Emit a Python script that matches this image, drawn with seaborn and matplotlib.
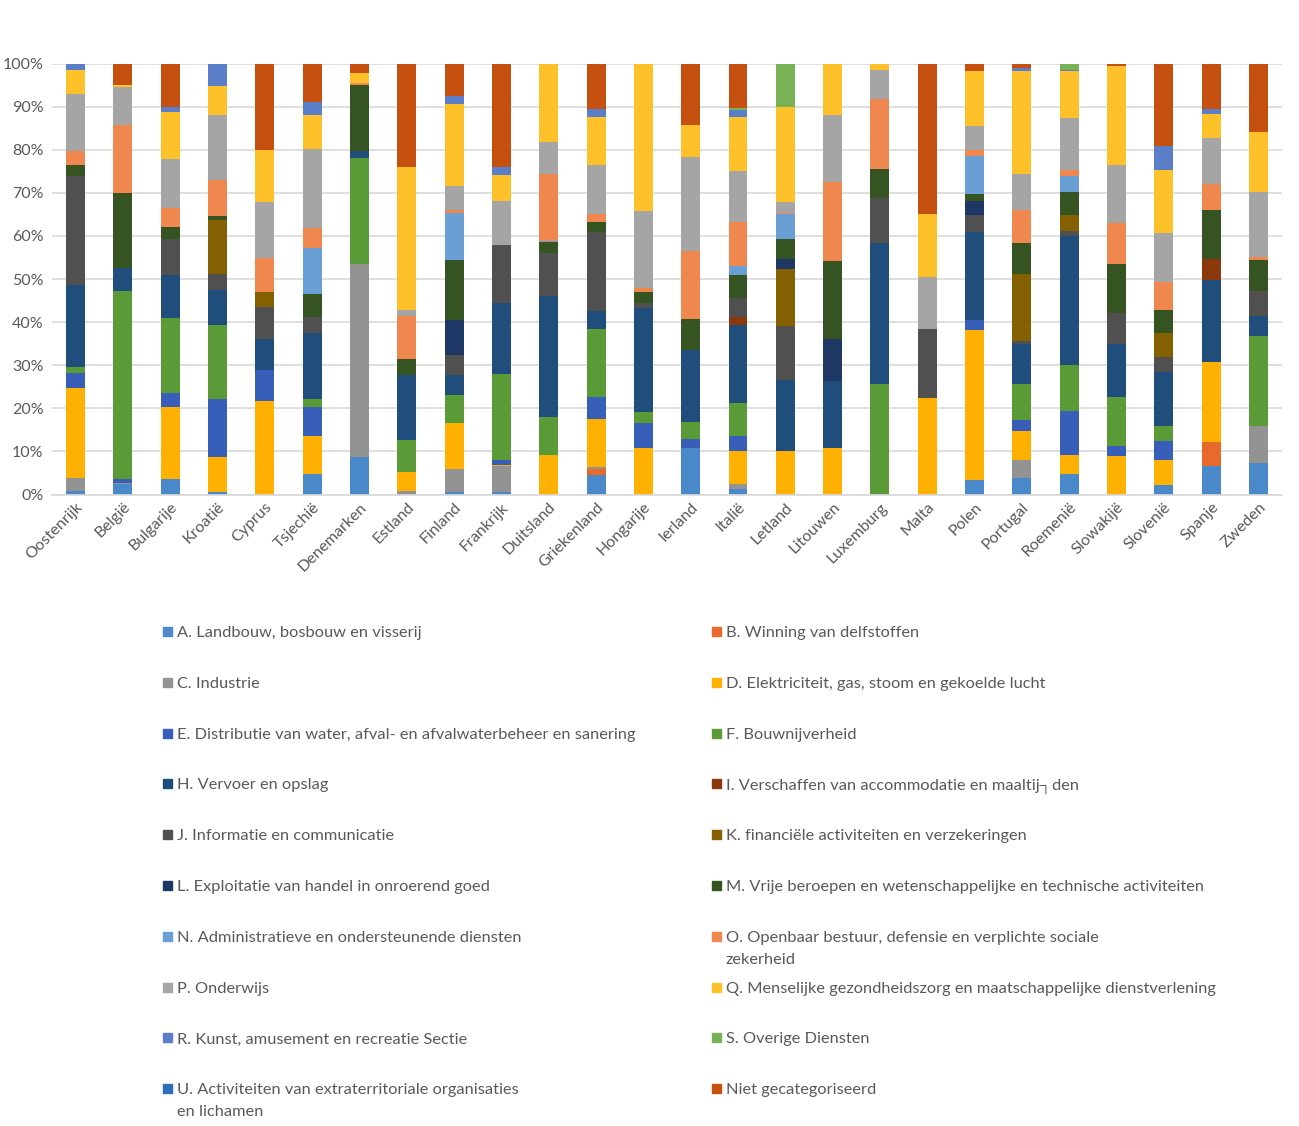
import numpy as np
import pandas as pd
import seaborn as sns
import matplotlib.pyplot as plt
from matplotlib.patches import Rectangle
from matplotlib.ticker import PercentFormatter

sns.set_theme(style="white")
plt.rcParams['font.family'] = ['Lato', 'DejaVu Sans']

# Countries on the x axis
countries = ["Oostenrijk", "België", "Bulgarije", "Kroatië", "Cyprus", "Tsjechië",
             "Denemarken", "Estland", "Finland", "Frankrijk", "Duitsland", "Griekenland",
             "Hongarije", "Ierland", "Italië", "Letland", "Litouwen", "Luxemburg",
             "Malta", "Polen", "Portugal", "Roemenië", "Slowakijë", "Slovenië",
             "Spanje", "Zweden"]

sectors = [
    "A. Landbouw, bosbouw en visserij",
    "B. Winning van delfstoffen",
    "C. Industrie",
    "D. Elektriciteit, gas, stoom en gekoelde lucht",
    "E. Distributie van water, afval- en afvalwaterbeheer en sanering",
    "F. Bouwnijverheid",
    "H. Vervoer en opslag",
    "I. Verschaffen van accommodatie en maaltij\u2510den",
    "J. Informatie en communicatie",
    "K. financiële activiteiten en verzekeringen",
    "L. Exploitatie van handel in onroerend goed",
    "M. Vrije beroepen en wetenschappelijke en technische activiteiten",
    "N. Administratieve en ondersteunende diensten",
    "O. Openbaar bestuur, defensie en verplichte sociale\nzekerheid",
    "P. Onderwijs",
    "Q. Menselijke gezondheidszorg en maatschappelijke dienstverlening",
    "R. Kunst, amusement en recreatie Sectie",
    "S. Overige Diensten",
    "U. Activiteiten van extraterritoriale organisaties\nen lichamen",
    "Niet gecategoriseerd",
]

colors = ["#4a89c9", "#e8692a", "#939393", "#ffb000", "#375fba", "#5b9b37",
          "#1f4e7c", "#8b380c", "#505050", "#846000", "#1f3764", "#355422",
          "#6a9fd6", "#ef874e", "#a5a5a5", "#ffc12a", "#5a7ec8", "#79b256",
          "#2e6db8", "#c65010"]

# Share per sector (%), one value per country
A = [0.9, 2.5, 3.5, 0.5, 0, 4.7, 8.8, 0, 0.7, 0.5, 0, 4.6, 0, 10.8, 1.3, 0, 0, 0, 0, 3.4, 3.9, 4.7, 0, 2.1, 6.7, 7.4]
B = [0, 0, 0, 0, 0, 0, 0, 0, 0, 0, 0, 1.4, 0, 0, 0, 0, 0, 0, 0, 0, 0, 0, 0, 0, 5.5, 0]
C = [3.0, 0.2, 0, 0, 0, 0, 44.7, 0.8, 5.3, 6.2, 0, 0.4, 0, 0, 1.1, 0, 0, 0, 0, 0, 4.2, 0, 0, 0, 0, 8.5]
D = [20.8, 0, 16.9, 8.1, 21.7, 8.9, 0, 4.5, 10.7, 0.2, 9.1, 11.2, 10.8, 0, 7.6, 10.2, 10.8, 0, 22.5, 34.6, 6.6, 4.4, 8.9, 5.8, 18.6, 0]
E = [3.6, 0.9, 3.1, 13.6, 7.1, 6.6, 0, 0, 0, 1.1, 0, 5.0, 5.8, 2.0, 3.5, 0, 0, 0, 0, 2.5, 2.5, 10.3, 2.3, 4.5, 0, 0]
F = [1.2, 43.5, 17.4, 17.1, 0, 1.9, 24.6, 7.3, 6.3, 19.9, 9.0, 15.7, 2.5, 4.0, 7.7, 0, 0, 25.6, 0, 0, 8.5, 10.6, 11.4, 3.5, 0, 20.9]
H = [19.1, 5.4, 10.0, 8.1, 7.4, 15.3, 1.7, 15.1, 4.8, 16.6, 28.0, 4.3, 24.2, 16.7, 18.1, 16.3, 15.5, 32.7, 0, 20.4, 9.2, 30.0, 12.3, 12.5, 18.9, 4.7]
I = [0, 0, 0, 0, 0, 0, 0, 0, 0, 0, 0, 0, 0, 0, 2.0, 0, 0, 0, 0, 0, 0, 0, 0, 0, 5.0, 0]
J = [25.3, 0, 8.3, 3.8, 7.2, 3.8, 0, 0, 4.5, 13.3, 10.0, 18.4, 1.2, 0, 4.2, 12.6, 0, 10.6, 16.0, 3.8, 0.7, 1.2, 7.3, 3.5, 0, 5.8]
K = [0, 0, 0, 12.4, 3.7, 0, 0, 0, 0, 0, 0, 0, 0, 0, 0, 13.2, 0, 0, 0, 0, 15.6, 3.7, 0, 5.6, 0, 0]
L = [0, 0, 0, 0, 0, 0, 0, 0, 8.2, 0, 0, 0, 0, 0, 0, 2.4, 9.9, 0, 0, 3.3, 0, 0, 0, 0, 0, 0]
M = [2.5, 17.3, 2.8, 1.1, 0, 5.4, 15.3, 3.7, 14.0, 0, 2.6, 2.2, 2.4, 7.2, 5.4, 4.6, 18.0, 6.6, 0, 1.5, 7.1, 5.4, 11.4, 5.3, 11.3, 7.2]
N = [0, 0, 0, 0, 0, 10.5, 0, 0, 10.9, 0, 0.2, 0, 0, 0, 2.1, 5.8, 0, 0, 0, 8.9, 0, 3.5, 0, 0, 0, 0]
O = [3.4, 15.8, 4.4, 8.3, 7.7, 4.7, 0.3, 10.0, 0.6, 0.2, 15.4, 1.8, 1.0, 15.7, 10.3, 0.3, 18.2, 16.3, 0, 1.4, 7.7, 1.5, 9.5, 6.6, 6.1, 0.7]
P = [13.1, 8.8, 11.4, 15.0, 13.0, 18.4, 0, 1.4, 5.5, 10.0, 7.6, 11.5, 17.9, 21.9, 11.8, 2.4, 15.6, 6.8, 12.0, 5.5, 8.3, 12.1, 13.4, 11.2, 10.6, 15.1]
Q = [5.6, 0.5, 11.0, 6.7, 12.2, 7.9, 2.3, 33.3, 19.1, 6.2, 18.1, 11.0, 33.9, 7.5, 12.6, 22.1, 12.0, 1.4, 14.5, 12.8, 23.9, 10.8, 23.0, 14.7, 5.6, 13.7]
R = [1.5, 0, 1.1, 5.3, 0, 3.0, 0, 0, 1.8, 1.8, 0, 2.0, 0, 0, 1.6, 0, 0, 0, 0, 0, 0.8, 0.4, 0, 5.6, 1.2, 0]
S = [0, 0, 0, 0, 0, 0, 0, 0, 0, 0, 0, 0, 0, 0, 0.3, 10.1, 0, 0, 0, 0, 0, 1.4, 0, 0, 0, 0]
U = [0] * 26
NIET = [0, 5.0, 10.1, 0, 20.0, 8.9, 2.3, 23.9, 7.6, 24.0, 0, 10.5, 0.2, 14.2, 10.4, 0, 0, 0, 35.0, 1.7, 1.0, 0, 0.5, 19.1, 10.5, 16.0]

values = np.array([A, B, C, D, E, F, H, I, J, K, L, M, N, O, P, Q, R, S, U, NIET], dtype=float)
shares = values / values.sum(axis=0)          # 100% stacked
cum = np.cumsum(shares, axis=0)

fig = plt.figure(figsize=(12.99, 11.26), dpi=100)
ax = fig.add_axes([0.040, 0.5608, 0.947, 0.3828])

# draw from the top cumulative down so each lower segment sits over the one above
for k in range(len(sectors) - 1, -1, -1):
    sns.barplot(x=countries, y=cum[k], color=colors[k], saturation=1,
                width=0.4, linewidth=0, errorbar=None, ax=ax, zorder=2)

ax.set_ylim(0, 1)
ax.set_xlim(-0.5, len(countries) - 0.5)
ax.yaxis.set_major_locator(plt.MultipleLocator(0.1))
ax.yaxis.set_major_formatter(PercentFormatter(1.0, decimals=0))
ax.yaxis.grid(True, color="#d9d9d9", lw=1.2, zorder=0)
ax.set_axisbelow(True)
for s in ["top", "right", "left"]:
    ax.spines[s].set_visible(False)
ax.spines["bottom"].set_color("#d9d9d9")
ax.tick_params(axis="both", length=0, colors="#595959", labelsize=11.5)
ax.tick_params(axis="y", pad=6)
ax.tick_params(axis="x", pad=4)
plt.setp(ax.get_xticklabels(), rotation=45, ha="right", rotation_mode="anchor")
ax.set_xlabel("")
ax.set_ylabel("")

# legend: two columns, pairs of sectors per row
W, Hh = 1299, 1126
row0, dy = 631, 50.8
for idx, (lab, col) in enumerate(zip(sectors, colors)):
    r, c = divmod(idx, 2)
    xm = 163 if c == 0 else 712
    y = row0 + r * dy
    fig.patches.append(Rectangle((xm / W, 1 - (y + 5) / Hh), 9 / W, 9 / Hh,
                                 transform=fig.transFigure, color=col))
    fig.text((xm + 14) / W, 1 - (y - 5) / Hh, lab, ha="left", va="top",
             fontsize=11.8, color="#595959", linespacing=1.75)

plt.savefig("out.png", dpi=100)
